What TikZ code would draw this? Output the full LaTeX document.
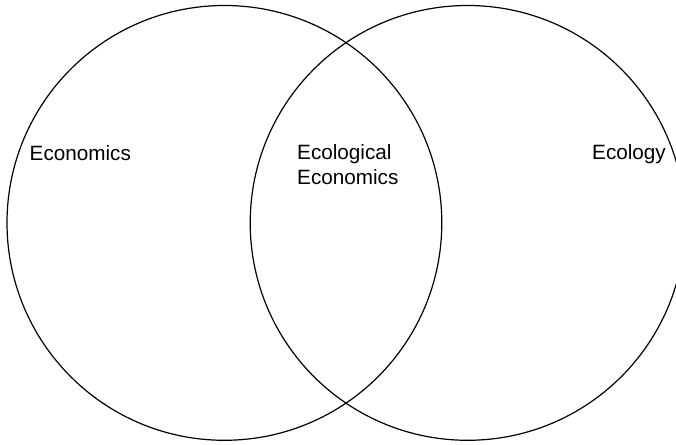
\documentclass[tikz,border=0pt]{standalone}
\usepackage{fontspec}
\setmainfont{Liberation Sans}
\begin{document}
\begin{tikzpicture}[x=1pt,y=1pt,
  venn/.style={draw=black,line width=1.2pt},
  lbl/.style={inner sep=0pt,anchor=base west,font=\fontsize{20.7}{25}\selectfont}]
\useasboundingbox (0,0) rectangle (676,444);
\clip (0,0) rectangle (676,444);
\coordinate (cl) at (224.4,221.1);
\coordinate (cr) at (467.6,221.1);
\draw[venn] (cl) circle[radius=217.4];
\draw[venn] (cr) circle[radius=217.4];
\node[lbl] (econ) at (29.5,283.8) {Economics};
\node[lbl] (ecol1) at (297,284.2) {Ecological};
\node[lbl] (ecol2) at (297,259.4) {Economics};
\node[lbl] (ecology) at (592,284.2) {Ecology};
\end{tikzpicture}
\end{document}
